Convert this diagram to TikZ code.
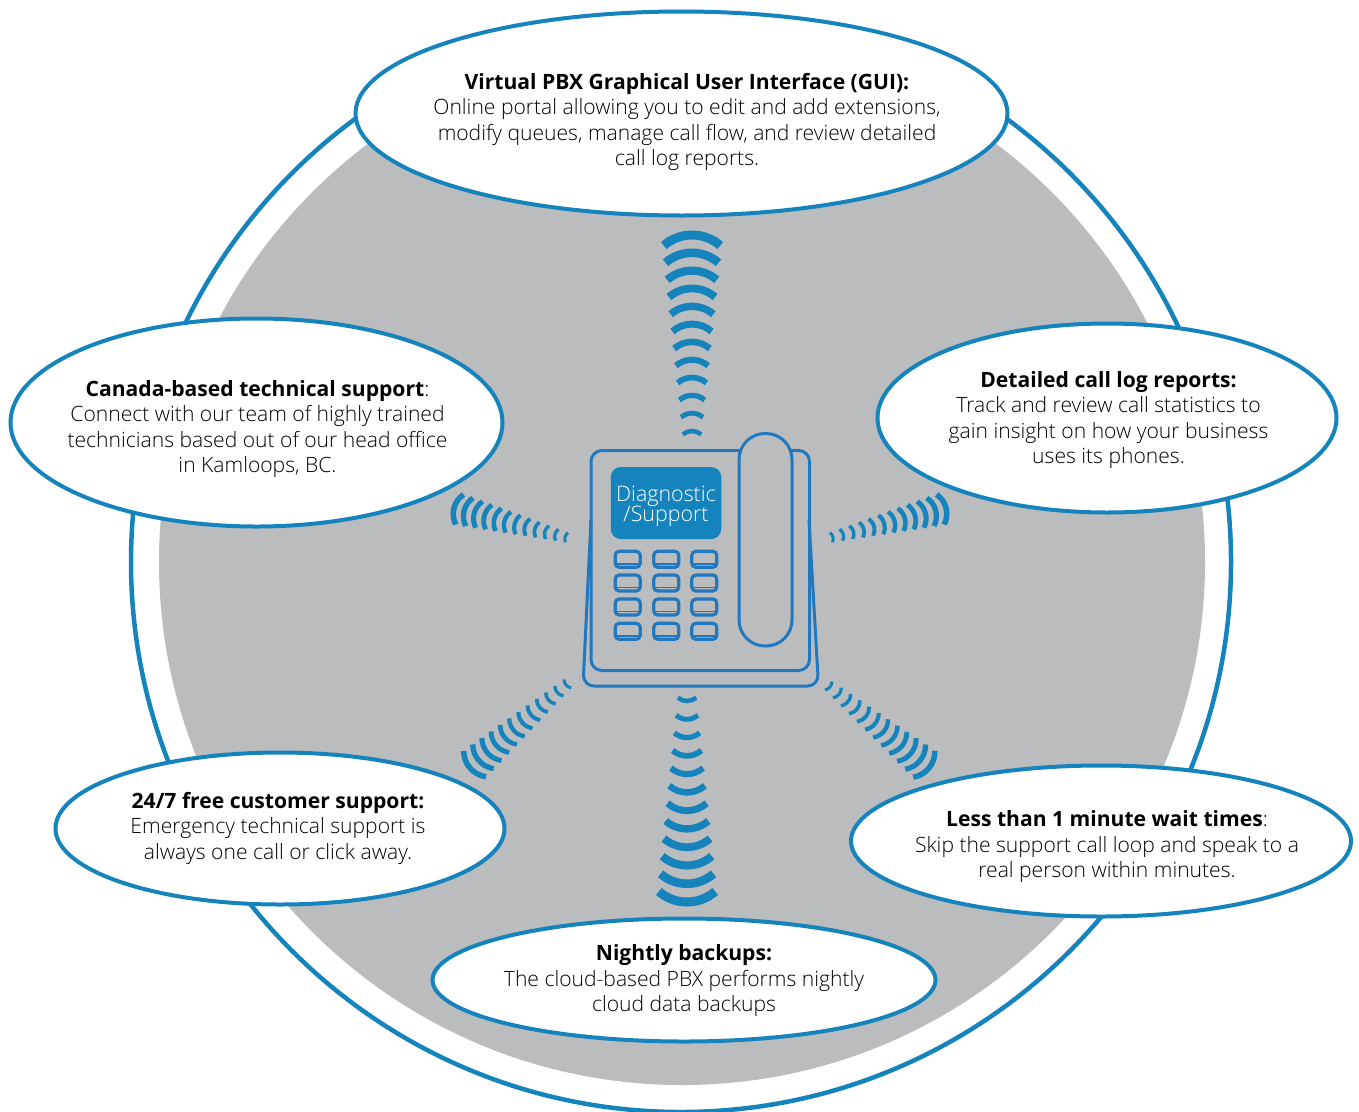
\documentclass[tikz,border=0pt]{standalone}
\usepackage{fontspec}
\setmainfont{Open Sans Light}[BoldFont={Open Sans Bold}]
\definecolor{ringblue}{HTML}{1583BC}
\definecolor{phoneblue}{HTML}{2178BE}
\definecolor{discgrey}{HTML}{BBBCBE}
\newcommand{\tightlines}{\lineskiplimit=-20pt\relax}
\newcommand{\wavegroup}[8]{% near x,y far x,y r0 r1 t0 t1
  \pgfmathsetmacro{\wdir}{atan2(#4-#2,#3-#1)}
  \foreach \i in {0,...,11}{
    \pgfmathsetmacro{\wf}{\i/11}
    \pgfmathsetmacro{\wx}{#1+(#3-#1)*\wf}
    \pgfmathsetmacro{\wy}{#2+(#4-#2)*\wf}
    \pgfmathsetmacro{\wr}{#5+(#6-#5)*\wf}
    \pgfmathsetmacro{\wt}{#7+(#8-#7)*\wf}
    \pgfmathsetmacro{\sx}{\wx-\wr*cos(\wdir)+\wr*cos(\wdir-41)}
    \pgfmathsetmacro{\sy}{\wy-\wr*sin(\wdir)+\wr*sin(\wdir-41)}
    \draw[ringblue,line width=\wt pt] (\sx,\sy) arc[start angle=\wdir-41,end angle=\wdir+41,radius=\wr pt];
  }
}
\tikzset{
  bubble/.style={ellipse,draw=ringblue,fill=white,line width=4pt,inner sep=0pt,outer sep=0pt},
  bubbletext/.style={align=center,font=\fontsize{21.1}{25.5}\selectfont,text=black},
  phoneline/.style={draw=phoneblue,line width=3pt},
  keycap/.style={draw=phoneblue,line width=3.2pt,rounded corners=4pt}
}
\usetikzlibrary{shapes.geometric}
\begin{document}
\begin{tikzpicture}[x=1pt,y=1pt,yscale=-1]
\useasboundingbox (0,0) rectangle (1359,1111);
\fill[white] (0,0) rectangle (1359,1111);
\fill[discgrey] (682,562) circle[radius=523pt];
\draw[ringblue,line width=4.5pt] (681,562) circle[radius=550pt];
\node[bubble,minimum width=652pt,minimum height=204pt] (gui) at (681.5,113.5) {};
\node[bubble,minimum width=492pt,minimum height=208pt] (canada) at (256.5,422.5) {};
\node[bubble,minimum width=459pt,minimum height=189pt] (logs) at (1107,418) {};
\node[bubble,minimum width=449pt,minimum height=152pt] (always) at (280,828.5) {};
\node[bubble,minimum width=500pt,minimum height=151pt] (wait) at (1101,841) {};
\node[bubble,minimum width=503pt,minimum height=123pt] (backup) at (684,980) {};
\node[bubbletext] (guitext) at (687,122) {\textbf{Virtual PBX Graphical User Interface (GUI):}\\Online portal allowing you to edit and add extensions,\\modify queues, manage call flow, and review detailed\\call log reports.};
\node[bubbletext] (canadatext) at (257.5,429) {\textbf{Canada-based technical support}:\\Connect with our team of highly trained\\technicians based out of our head office\\in Kamloops, BC.};
\node[bubbletext] (logstext) at (1108.5,420) {\textbf{Detailed call log reports:}\\Track and review call statistics to\\gain insight on how your business\\uses its phones.};
\node[bubbletext] (alwaystext) at (278,828) {\textbf{24/7 free customer support:}\\Emergency technical support is\\always one call or click away.};
\node[bubbletext] (waittext) at (1107,847) {\textbf{Less than 1 minute wait times}:\\Skip the support call loop and speak to a\\real person within minutes.};
\node[bubbletext] (backuptext) at (684,981) {\textbf{Nightly backups:}\\The cloud-based PBX performs nightly\\cloud data backups};
% waves
\wavegroup{692}{431}{692}{235}{14}{43}{4.5}{9}
\wavegroup{687}{701}{687}{902}{14}{43}{4.5}{9}
\wavegroup{565}{537}{454}{508}{7.6}{23.6}{3}{5.5}
\wavegroup{833}{537}{946}{508}{7.6}{23.6}{3}{5.5}
\wavegroup{566}{685}{470}{768}{8.4}{26}{3}{5.5}
\wavegroup{830}{687}{929}{768}{8.4}{26}{3}{5.5}
% phone
\draw[phoneline,rounded corners=11pt] (591,520) -- (583,686) -- (818.5,686) -- (809,520);
\draw[phoneline,rounded corners=11pt] (591,450.5) rectangle (809.5,670.5);
\draw[phoneline,fill=discgrey,rounded corners=26pt] (739,433.5) rectangle (792,646);
\node[fill=ringblue,rounded corners=10pt,minimum width=110.5pt,minimum height=72pt,inner sep=0pt,outer sep=0pt] (screen) at (666,503) {};
\node[text=white,align=center,font=\fontsize{21.4}{20}\selectfont\tightlines] (screentext) at (666,506) {Diagnostic\\/Support};
\foreach \kx in {627.7,666.3,704.3}{
  \foreach \ky in {559.3,583,607,631.3}{
    \draw[keycap] (\kx-12.5,\ky-8) rectangle (\kx+12.5,\ky+8);
    \draw[phoneblue,line width=1.4pt] (\kx-12,\ky+4.5) -- (\kx+12,\ky+4.5);
  }
}
\end{tikzpicture}
\end{document}
